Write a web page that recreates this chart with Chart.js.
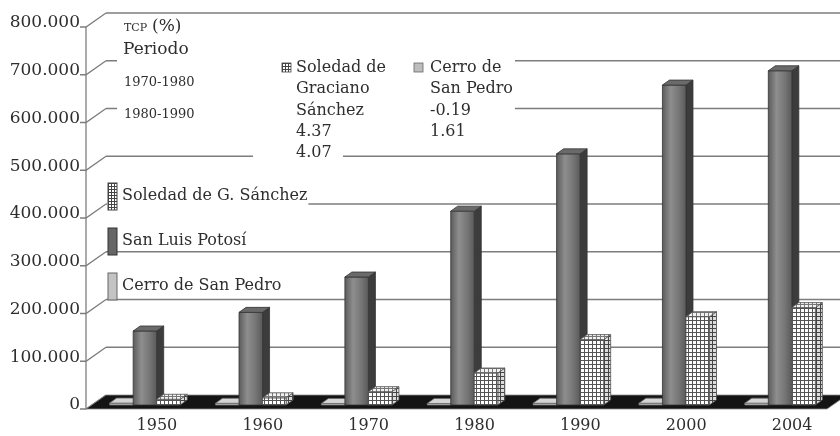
<!DOCTYPE html>
<html>
<head>
<meta charset="utf-8">
<script src="https://cdn.jsdelivr.net/npm/chart.js@4"></script>
<style>
  html, body { margin: 0; padding: 0; background: #fff; }
  #wrap { width: 840px; height: 436px; }
</style>
</head>
<body>
<div id="wrap"><canvas id="chart" width="840" height="436"></canvas></div>
<script>
// data
const years = ['1950', '1960', '1970', '1980', '1990', '2000', '2004']
const cerroSanPedro = [4000, 3600, 3200, 3100, 3600, 3800, 3900]
const sanLuisPotosi = [155000, 194000, 268000, 406000, 526000, 670000, 700000]
const soledad = [12000, 15000, 28000, 67000, 137000, 185000, 204000]

const seriesNames = ['Cerro de San Pedro', 'San Luis Potosí', 'Soledad de G. Sánchez']
const yTicks = [0, 100000, 200000, 300000, 400000, 500000, 600000, 700000, 800000]

// TCP table
const tcpPeriods = ['1970-1980', '1980-1990']
const tcpSoledad = ['4.37', '4.07']
const tcpCerro = ['-0.19', '1.61']

const serif = "'DejaVu Serif', serif"
const textColor = '#2e2e2e'

function fmt(v) {
    return String(v).replace(/\B(?=(\d{3})+(?!\d))/g, '.')
}

function gridPattern(ctx, bg, line, size) {
    size = size || 4
    let c = document.createElement('canvas')
    c.width = size
    c.height = size
    let g = c.getContext('2d')
    g.fillStyle = bg
    g.fillRect(0, 0, size, size)
    g.fillStyle = line
    g.fillRect(0, 0, size, 1)
    g.fillRect(0, 0, 1, size)
    return ctx.createPattern(c, 'repeat')
}

// depth of the floor, relative to the plane the bars stand in
const FRONT = { x: -6, y: 4 }
const BACK = { x: 14, y: -10 }
const BAR_D = { x: 7, y: -5 }

function poly(ctx, pts, fill, stroke) {
    ctx.beginPath()
    ctx.moveTo(pts[0][0], pts[0][1])
    for (let i = 1; i < pts.length; i++) ctx.lineTo(pts[i][0], pts[i][1])
    ctx.closePath()
    ctx.fillStyle = fill
    ctx.fill()
    if (stroke) {
        ctx.strokeStyle = stroke
        ctx.lineWidth = 0.8
        ctx.stroke()
    }
}

function drawBar(ctx, el, style) {
    let L = el.x - el.width / 2
    let R = el.x + el.width / 2
    let top = el.y
    let base = el.base
    let dx = BAR_D.x, dy = BAR_D.y

    let front = style.front
    if (style.gradient) {
        front = ctx.createLinearGradient(L, 0, R, 0)
        front.addColorStop(0, '#5c5c5c')
        front.addColorStop(0.35, '#8e8e8e')
        front.addColorStop(0.7, '#767676')
        front.addColorStop(1, '#5a5a5a')
    }
    poly(ctx, [[R, top], [R + dx, top + dy], [R + dx, base + dy], [R, base]], style.side, style.stroke)
    poly(ctx, [[L, top], [R, top], [R, base], [L, base]], front, style.stroke)
    poly(ctx, [[L, top], [L + dx, top + dy], [R + dx, top + dy], [R, top]], style.top, style.stroke)
}

const decor = {
    id: 'decor',
    beforeDatasetsDraw(chart) {
        let ctx = chart.ctx
        let area = chart.chartArea
        let y = chart.scales.y
        ctx.save()

        // back wall grid lines
        ctx.strokeStyle = '#7d7d7d'
        ctx.lineWidth = 1.3
        yTicks.forEach(v => {
            let py = y.getPixelForValue(v)
            if (v > 0) {
                ctx.beginPath()
                ctx.moveTo(area.left + BACK.x, py + BACK.y)
                ctx.lineTo(chart.width, py + BACK.y)
                ctx.stroke()
            }
            // slanted tick from front axis to the wall
            ctx.beginPath()
            ctx.moveTo(area.left + FRONT.x - 6, py + FRONT.y)
            ctx.lineTo(area.left + FRONT.x, py + FRONT.y)
            ctx.lineTo(area.left + BACK.x, py + BACK.y)
            ctx.stroke()
        })

        // front vertical axis
        ctx.beginPath()
        ctx.moveTo(area.left + FRONT.x, y.getPixelForValue(800000) + FRONT.y)
        ctx.lineTo(area.left + FRONT.x, y.getPixelForValue(0) + FRONT.y)
        ctx.stroke()

        // white text boxes hiding part of the grid
        ctx.fillStyle = '#fff'
        ctx.fillRect(117, 36, 398, 104)
        ctx.fillRect(253, 140, 90, 25)

        // floor
        let b = area.bottom
        poly(ctx, [
            [area.left + FRONT.x, b + FRONT.y],
            [area.right + FRONT.x, b + FRONT.y],
            [area.right + BACK.x, b + BACK.y],
            [area.left + BACK.x, b + BACK.y]
        ], '#141414', '#8a8a8a')

        ctx.restore()
    },
    afterDatasetsDraw(chart) {
        let ctx = chart.ctx
        let styles = [
            { front: '#c3c3c3', side: '#9c9c9c', top: '#d4d4d4', stroke: '#6a6a6a' },
            { gradient: true, side: '#3c3c3c', top: '#6a6a6a', stroke: '#333' },
            {
                front: gridPattern(ctx, '#ffffff', '#555555'),
                side: gridPattern(ctx, '#dcdcdc', '#444444'),
                top: gridPattern(ctx, '#f2f2f2', '#777777'),
                stroke: '#555'
            }
        ]
        ctx.save()
        for (let i = 0; i < years.length; i++) {
            for (let d = 0; d < 3; d++) {
                let el = chart.getDatasetMeta(d).data[i]
                drawBar(ctx, el, styles[d])
            }
        }
        ctx.restore()
    },
    afterDraw(chart) {
        let ctx = chart.ctx
        ctx.save()
        ctx.fillStyle = textColor
        ctx.textBaseline = 'middle'
        ctx.textAlign = 'left'

        // TCP box
        ctx.font = '11px ' + serif
        ctx.fillText('TCP', 124, 28)
        ctx.font = '17px ' + serif
        ctx.fillText('(%)', 152, 27)
        ctx.fillText('Periodo', 123, 50)
        ctx.font = '13px ' + serif
        ctx.fillText(tcpPeriods[0], 124, 83)
        ctx.fillText(tcpPeriods[1], 124, 115)

        ctx.fillStyle = gridPattern(ctx, '#ffffff', '#444', 3)
        ctx.fillRect(282, 63, 9, 9)
        ctx.strokeStyle = '#444'
        ctx.lineWidth = 0.8
        ctx.strokeRect(282, 63, 9, 9)
        ctx.fillStyle = '#bdbdbd'
        ctx.fillRect(414, 63, 9, 9)
        ctx.strokeStyle = '#666'
        ctx.strokeRect(414, 63, 9, 9)

        ctx.fillStyle = textColor
        ctx.font = '16px ' + serif
        let col2 = ['Soledad de', 'Graciano', 'Sánchez', tcpSoledad[0], tcpSoledad[1]]
        col2.forEach((t, k) => ctx.fillText(t, 296, 68 + k * 21.2))
        let col3 = ['Cerro de', 'San Pedro', tcpCerro[0], tcpCerro[1]]
        col3.forEach((t, k) => ctx.fillText(t, 430, 68 + k * 21.2))

        // legend
        let legend = [
            { name: seriesNames[2], y: 196, fill: gridPattern(ctx, '#ffffff', '#444', 3), stroke: '#444' },
            { name: seriesNames[1], y: 241, fill: '#666666', stroke: '#333' },
            { name: seriesNames[0], y: 286, fill: '#c3c3c3', stroke: '#666' }
        ]
        ctx.font = '16px ' + serif
        legend.forEach(item => {
            let w = ctx.measureText(item.name).width
            ctx.fillStyle = '#fff'
            ctx.fillRect(107, item.y - 12, w + 16, 22)
            ctx.fillStyle = item.fill
            ctx.fillRect(108, item.y - 13, 9, 27)
            ctx.strokeStyle = item.stroke
            ctx.lineWidth = 1
            ctx.strokeRect(108, item.y - 13, 9, 27)
            ctx.fillStyle = textColor
            ctx.fillText(item.name, 122, item.y)
        })
        ctx.restore()
    }
}

const none = 'rgba(0,0,0,0)'

new Chart('chart', {
    type: 'bar',
    data: {
        labels: years,
        datasets: [
            { label: seriesNames[0], data: cerroSanPedro, backgroundColor: none, borderWidth: 0 },
            { label: seriesNames[1], data: sanLuisPotosi, backgroundColor: none, borderWidth: 0 },
            { label: seriesNames[2], data: soledad, backgroundColor: none, borderWidth: 0 }
        ]
    },
    options: {
        responsive: false,
        animation: false,
        events: [],
        layout: { padding: { top: 23, right: 7, left: 0, bottom: 0 } },
        datasets: { bar: { categoryPercentage: 0.667, barPercentage: 1 } },
        plugins: { legend: { display: false }, tooltip: { enabled: false } },
        scales: {
            x: {
                grid: { display: false, drawTicks: false },
                border: { display: false },
                ticks: {
                    font: { family: serif, size: 16 },
                    color: textColor,
                    padding: 11,
                    labelOffset: 12,
                    maxRotation: 0
                },
                afterFit: s => { s.height = 31 }
            },
            y: {
                min: 0,
                max: 800000,
                grid: { display: false, drawTicks: false },
                border: { display: false },
                ticks: {
                    stepSize: 100000,
                    font: { family: serif, size: 17 },
                    color: textColor,
                    padding: 12,
                    callback: v => fmt(v)
                },
                afterFit: s => { s.width = 92 }
            }
        }
    },
    plugins: [decor]
})
</script>
</body>
</html>
